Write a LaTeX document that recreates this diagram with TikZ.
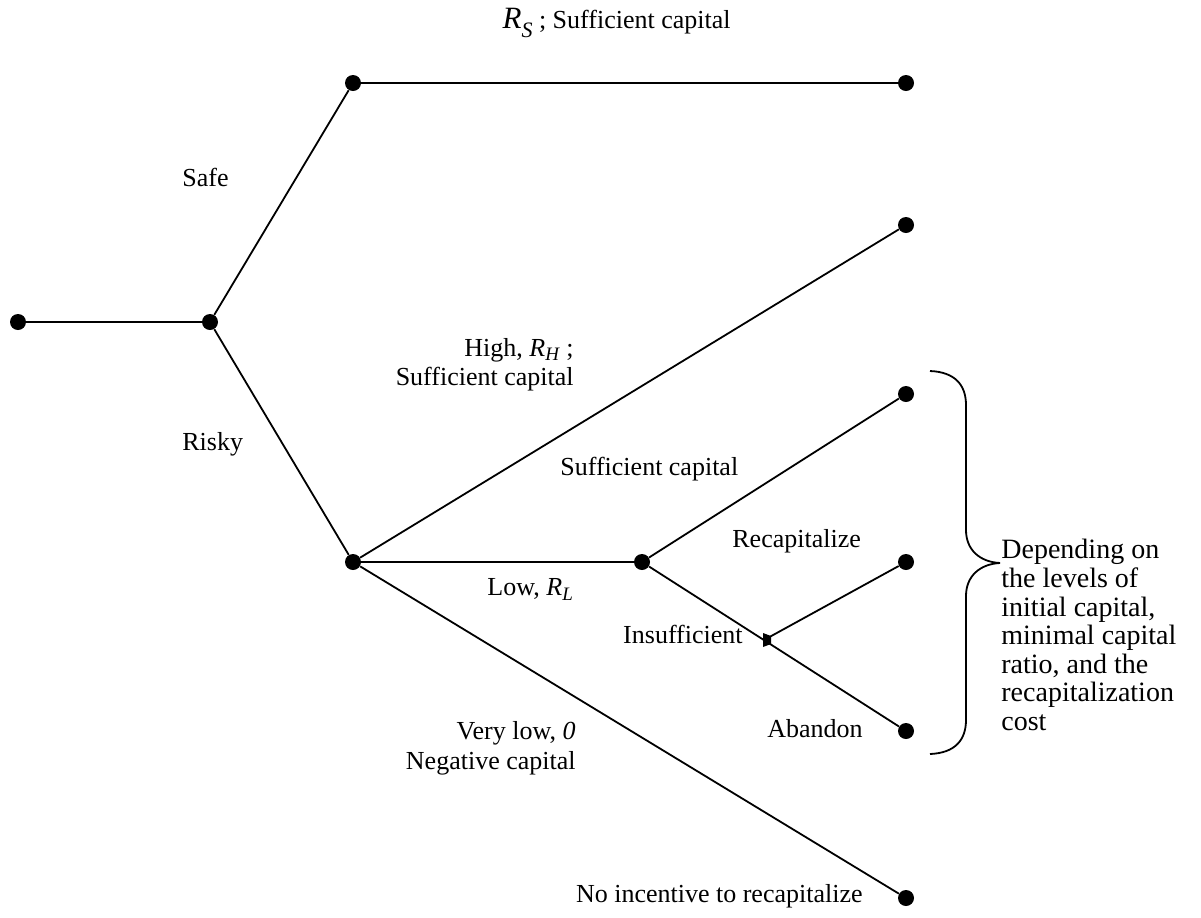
\documentclass[tikz,border=0pt]{standalone}
\usepackage{fontspec}
\setmainfont{Liberation Serif}
\begin{document}
\begin{tikzpicture}[x=0.5pt,y=-0.5pt,
  dot/.style={circle,fill=black,inner sep=0pt,minimum size=8pt},
  edge/.style={line width=0.9pt},
  lbl/.style={inner sep=0pt,font=\fontsize{13}{14.3}\selectfont},
  biglbl/.style={inner sep=0pt,font=\fontsize{14}{14.3}\selectfont}]
\useasboundingbox (0,0) rectangle (1201,917);
\newcommand{\subs}[2]{\textit{#1}\raisebox{-2.2pt}{\fontsize{9.5}{10}\selectfont\textit{#2}}}
% nodes
\node[dot] (root) at (18,322) {};
\node[dot] (a) at (210,322) {};
\node[dot] (safe) at (353,83) {};
\node[dot] (safeend) at (906,83) {};
\node[dot] (risky) at (353,562) {};
\node[dot] (high) at (906,225) {};
\node[dot] (low) at (642,562) {};
\node[dot] (suff) at (906,394) {};
\node[dot] (recap) at (906,562) {};
\node[dot] (aband) at (906,731) {};
\node[dot] (vlow) at (906,898) {};
\coordinate (ins) at (764,640);
% edges
\draw[edge] (root) -- (a);
\draw[edge] (a) -- (safe);
\draw[edge] (safe) -- (safeend);
\draw[edge] (a) -- (risky);
\draw[edge] (risky) -- (high);
\draw[edge] (risky) -- (low);
\draw[edge] (risky) -- (vlow);
\draw[edge] (low) -- (suff);
\draw[edge] (low) -- (aband);
\draw[edge] (recap) -- (ins);
\fill (ins) ++(-1,-7) -- ++(0,14) -- ++(8,-3) -- ++(0,-8) -- cycle;
% labels
\node[lbl,anchor=mid east] (lrs) at (731,24) {{\fontsize{15.5}{16}\selectfont\textit{R}}\raisebox{-4.5pt}{\fontsize{11}{11}\selectfont\textit{S}} ; Sufficient capital};
\node[lbl,anchor=mid west] (lsafe) at (182,182) {Safe};
\node[lbl,anchor=mid west] (lrisky) at (182,446) {Risky};
\node[lbl,anchor=mid east] (lhigh1) at (574,352) {High, \subs{R}{H} ;};
\node[lbl,anchor=mid east] (lhigh2) at (574,381) {Sufficient capital};
\node[lbl,anchor=mid west] (lsuff) at (560,471) {Sufficient capital};
\node[lbl,anchor=mid west] (lrecap) at (732,543) {Recapitalize};
\node[lbl,anchor=mid west] (llow) at (487,591) {Low, \subs{R}{L}};
\node[lbl,anchor=mid east] (lins) at (743,639) {Insufficient};
\node[lbl,anchor=mid east] (lvl1) at (576,735) {Very low, \textit{0}};
\node[lbl,anchor=mid east] (lvl2) at (576,765) {Negative capital};
\node[lbl,anchor=mid east] (laband) at (863,733) {Abandon};
\node[lbl,anchor=mid east] (lnoinc) at (863,898) {No incentive to recapitalize};
\node[biglbl,anchor=north west,align=left] (ldep) at (1001,539) {Depending on\\the levels of\\initial capital,\\minimal capital\\ratio, and the\\recapitalization\\cost};
% brace
\draw[edge] (930,371) .. controls (955,372) and (966,385) .. (966,405)
  -- (966,530) .. controls (966,550) and (980,562) .. (1000,563)
  .. controls (980,564) and (966,576) .. (966,596)
  -- (966,720) .. controls (966,740) and (955,753) .. (930,754);
\end{tikzpicture}
\end{document}
